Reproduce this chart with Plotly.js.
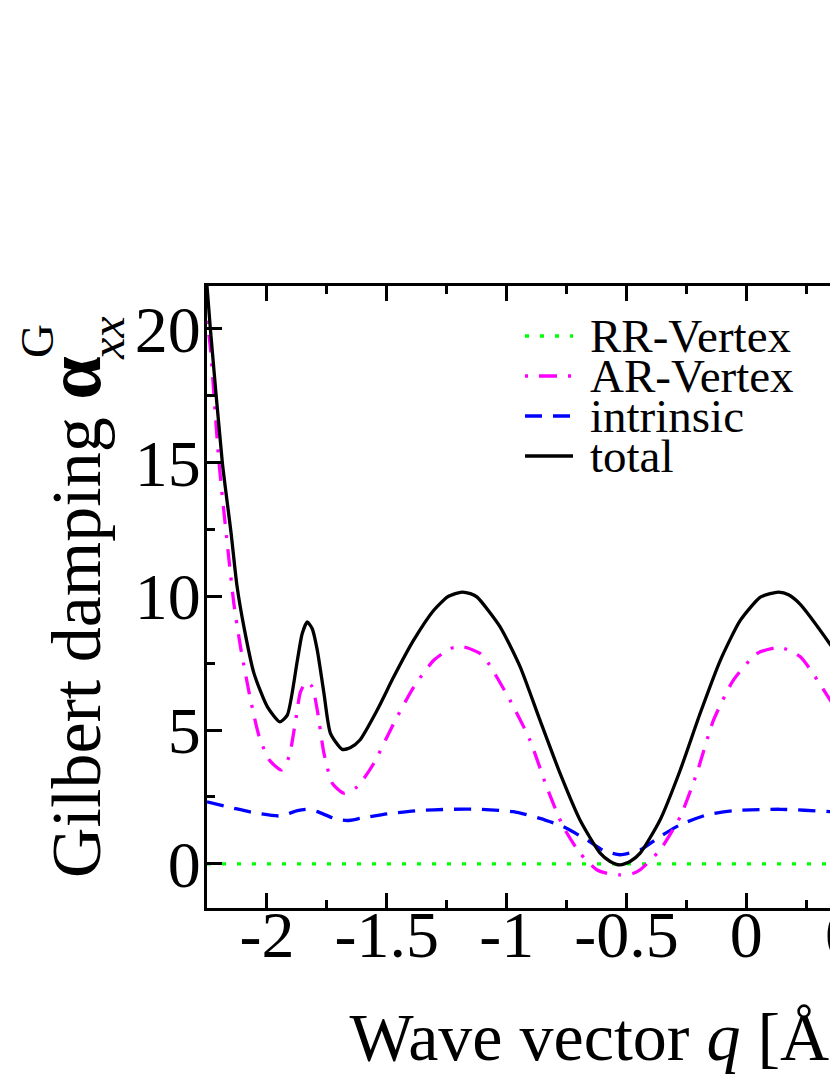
<!DOCTYPE html>
<html>
<head>
<meta charset="utf-8">
<script src="https://cdn.plot.ly/plotly-3.0.1.min.js"></script>
<style>
  html, body { margin: 0; padding: 0; overflow: hidden; background: #fff; }
  #graphDiv { width: 1100px; height: 1075px; }
</style>
</head>
<body>
<div id="graphDiv"></div>
<script>
// values (wave vector q in 1/Angstrom)
let qTotal = [-2.25, -2.236, -2.186, -2.15, -2.125, -2.096, -2.054, -1.998, -1.946, -1.915,
  -1.873, -1.853, -1.832, -1.811, -1.79, -1.762, -1.735, -1.686, -1.651, -1.612,
  -1.54, -1.471, -1.388, -1.304, -1.248, -1.214, -1.186, -1.151, -1.123, -1.028,
  -0.944, -0.861, -0.777, -0.694, -0.61, -0.568, -0.527, -0.485, -0.443, -0.36,
  -0.276, -0.193, -0.109, -0.026, 0.057, 0.099, 0.135, 0.176, 0.223, 0.348, 0.38];
let total = [21.6, 20.0, 15.0, 12.4, 10.4, 8.86, 7.12, 5.87, 5.31, 5.56,
  7.61, 8.6, 9.04, 8.79, 7.99, 6.37, 4.88, 4.28, 4.35, 4.63,
  5.75, 6.99, 8.36, 9.48, 9.97, 10.1, 10.16, 10.1, 9.97, 8.87,
  7.37, 5.37, 3.38, 1.64, 0.40, 0.09, -0.04, 0.09, 0.40, 1.64,
  3.5, 5.62, 7.6, 9.09, 9.96, 10.1, 10.16, 10.06, 9.72, 8.23, 7.8];

let qAR = [-2.25, -2.236, -2.2, -2.158, -2.138, -2.11, -2.068, -2.032, -1.99, -1.939,
  -1.908, -1.88, -1.86, -1.835, -1.811, -1.79, -1.762, -1.727, -1.679, -1.623,
  -1.554, -1.471, -1.387, -1.304, -1.234, -1.179, -1.11, -1.084, -0.986, -0.903,
  -0.833, -0.764, -0.694, -0.624, -0.583, -0.527, -0.471, -0.443, -0.36, -0.276,
  -0.207, -0.137, -0.054, 0.044, 0.141, 0.225, 0.35, 0.38];
let arVertex = [20.3, 19.3, 15.0, 11.34, 9.73, 8.1, 6.12, 4.75, 3.88, 3.51,
  4.0, 5.37, 6.43, 6.8, 6.62, 5.75, 4.13, 3.01, 2.64, 2.88,
  3.76, 5.25, 6.62, 7.61, 8.05, 8.11, 7.86, 7.61, 6.12, 4.63,
  2.88, 1.39, 0.40, -0.22, -0.35, -0.41, -0.35, -0.22, 0.52, 1.76,
  3.38, 5.37, 6.87, 7.86, 8.09, 7.74, 6.12, 5.7];

let qIntr = [-2.25, -2.138, -2.04, -1.943, -1.873, -1.832, -1.79, -1.72, -1.665, -1.61,
  -1.498, -1.373, -1.234, -1.111, -0.972, -0.861, -0.764, -0.666, -0.597, -0.527,
  -0.443, -0.36, -0.276, -0.165, -0.054, 0.141, 0.35, 0.38];
let intrinsic = [2.32, 2.08, 1.89, 1.79, 1.99, 2.04, 1.95, 1.70, 1.62, 1.70,
  1.87, 1.99, 2.04, 2.04, 1.95, 1.70, 1.39, 0.90, 0.50, 0.34,
  0.52, 1.02, 1.46, 1.83, 1.99, 2.04, 1.95, 1.93];

let qRR = [-2.25, 0.38];
let rrVertex = [0, 0];

let xTickVals = [-2, -1.5, -1, -0.5, 0, 0.5, 1];
let xTickText = ["-2", "-1.5", "-1", "-0.5", "0", "0.5", "1"];
let yTickVals = [0, 5, 10, 15, 20];
let yTickText = ["0", "5", "10", "15", "20"];

let legendNames = ["RR-Vertex", "AR-Vertex", "intrinsic", "total"];
let legendColors = ["#00ff00", "#ff00ff", "#0000ff", "#000000"];
let legendDash = ["4px,11px", "3px,11px,18px,11px", "17px,11px", "solid"];

const serif = "Liberation Serif, Times New Roman, serif";
const W = 1100, H = 1075, L = 207, R = 66, T = 286, B = 167;
const plotW = W - L - R, plotH = H - T - B;
let px2x = (px) => (px - L) / plotW;
let py2y = (py) => (H - B - py) / plotH;

function makeTrace(x, y, i) {
  return {
    type: "scatter",
    mode: "lines",
    x: x,
    y: y,
    name: legendNames[i],
    line: { color: legendColors[i], width: 3.3, dash: legendDash[i], shape: "spline", smoothing: 0.6 },
    showlegend: false,
  };
}

let data = [
  makeTrace(qRR, rrVertex, 0),
  makeTrace(qIntr, intrinsic, 2),
  makeTrace(qAR, arVertex, 1),
  makeTrace(qTotal, total, 3),
];

// hand made legend: tight rows like the original
let legendRows = [336, 376, 416, 456];
let shapes = [];
let annotations = [];
legendNames.forEach((name, i) => {
  shapes.push({
    type: "line", xref: "paper", yref: "paper",
    x0: px2x(525), x1: px2x(573), y0: py2y(legendRows[i]), y1: py2y(legendRows[i]),
    line: { color: legendColors[i], width: 3.3, dash: legendDash[i] },
  });
  annotations.push({
    xref: "paper", yref: "paper", x: px2x(588), y: py2y(legendRows[i]),
    xanchor: "left", yanchor: "middle", showarrow: false,
    text: name, font: { family: serif, size: 47, color: "#000" },
  });
});

// y title in three pieces so the G sits above the xx
annotations.push({
  xref: "paper", yref: "paper", x: px2x(73), y: py2y(880),
  xanchor: "center", yanchor: "bottom", showarrow: false, textangle: -90,
  text: "Gilbert damping <span style=\"font-size:78px\"><b>α</b></span>",
  font: { family: serif, size: 70, color: "#000" },
});
annotations.push({
  xref: "paper", yref: "paper", x: px2x(107), y: py2y(338),
  xanchor: "center", yanchor: "middle", showarrow: false, textangle: -90,
  text: "<i>xx</i>", font: { family: serif, size: 48, color: "#000" },
});
annotations.push({
  xref: "paper", yref: "paper", x: px2x(37), y: py2y(341),
  xanchor: "center", yanchor: "middle", showarrow: false, textangle: -90,
  text: "G", font: { family: serif, size: 47, color: "#000" },
});

let axisCommon = {
  showline: true, linewidth: 3, linecolor: "#000", mirror: "ticks",
  ticks: "inside", ticklen: 15, tickwidth: 3, tickcolor: "#000",
  showgrid: false, zeroline: false, automargin: false,
  tickfont: { family: serif, size: 66, color: "#000" },
};

let layout = {
  width: W,
  height: H,
  margin: { l: L, r: R, t: T, b: B },
  paper_bgcolor: "#fff",
  plot_bgcolor: "#fff",
  showlegend: false,
  xaxis: Object.assign({}, axisCommon, {
    range: [-2.25, 1.2],
    tickmode: "array", tickvals: xTickVals, ticktext: xTickText,
    ticklabelstandoff: -33,
    minor: { dtick: 0.25, tick0: 0, ticks: "inside", ticklen: 8, tickwidth: 3, tickcolor: "#000" },
    title: { text: "Wave vector <i>q</i> [Å<sup>-1</sup>]", font: { family: serif, size: 68, color: "#000" }, standoff: 48 },
  }),
  yaxis: Object.assign({}, axisCommon, {
    range: [-1.65, 21.6],
    tickmode: "array", tickvals: yTickVals, ticktext: yTickText,
    ticklabelstandoff: -10,
    minor: { dtick: 2.5, tick0: 0, ticks: "inside", ticklen: 8, tickwidth: 3, tickcolor: "#000" },
  }),
  shapes: shapes,
  annotations: annotations,
};

Plotly.newPlot("graphDiv", data, layout, { staticPlot: true });
</script>
</body>
</html>
